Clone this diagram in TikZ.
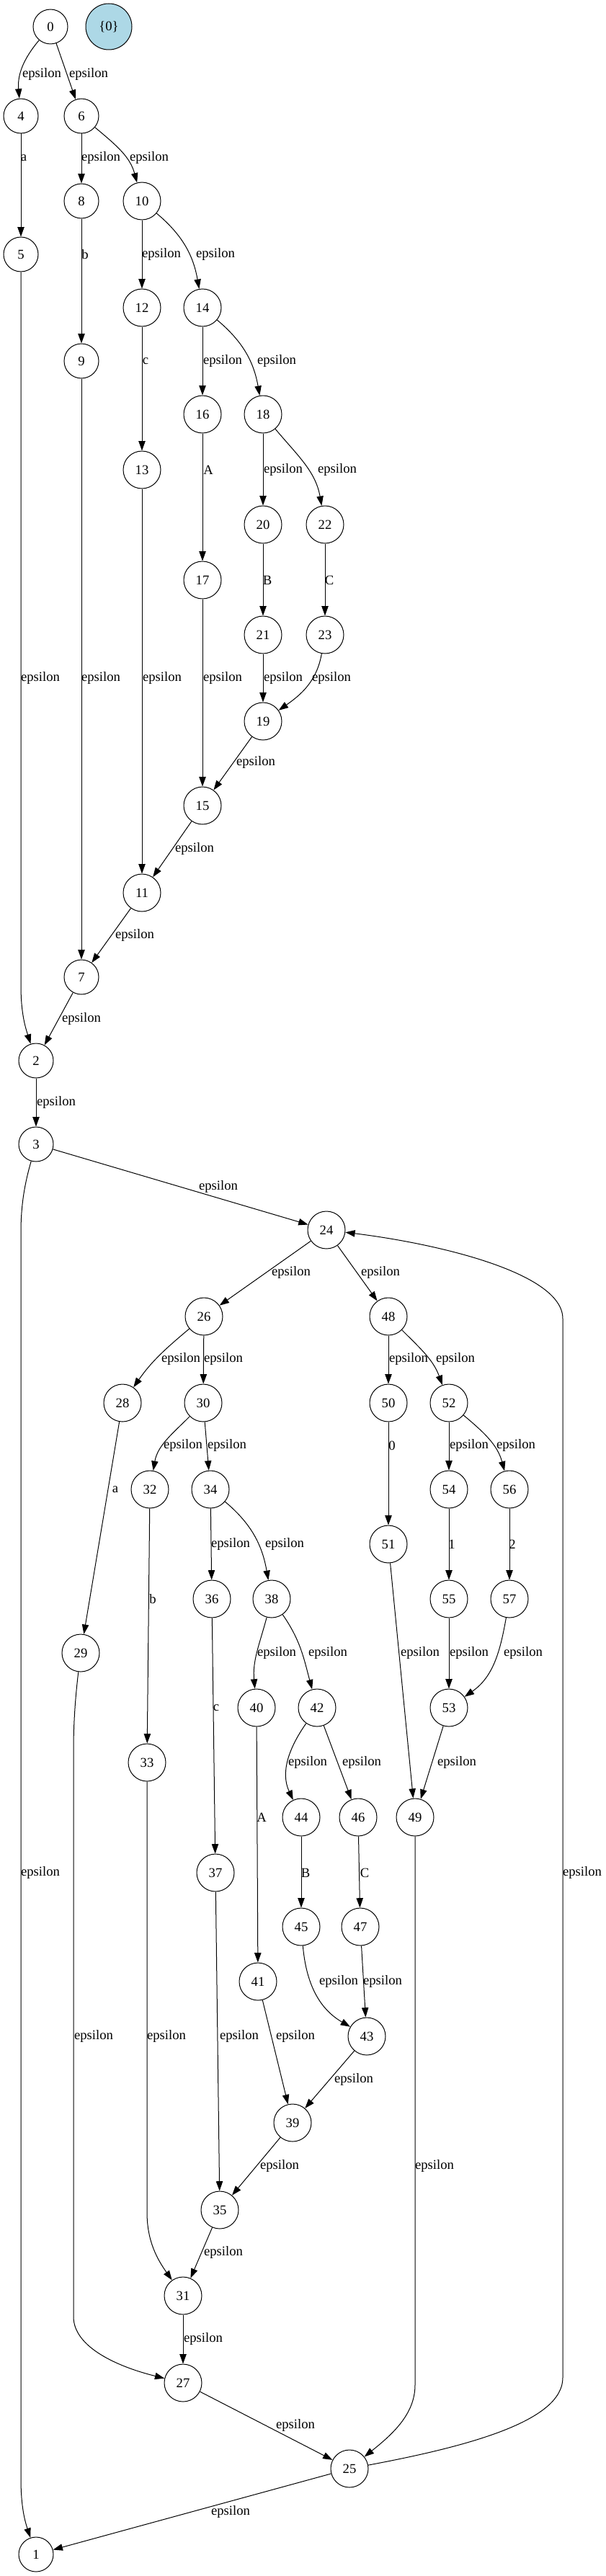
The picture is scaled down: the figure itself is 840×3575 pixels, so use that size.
\documentclass[tikz,border=0pt]{standalone}
\usepackage{fontspec}
\setmainfont{Liberation Serif}
\usetikzlibrary{arrows.meta}
\definecolor{lightblue}{HTML}{ADD8E6}
\tikzset{
  st/.style={draw, circle, line width=0.75pt, minimum size=36pt, inner sep=0pt, font=\fontsize{14}{16}\selectfont},
  stt/.style={st, minimum size=39pt},
  start/.style={st, minimum size=48pt, fill=lightblue},
  edge/.style={line width=0.75pt, -{Triangle[length=10pt,width=7pt]}},
  lab/.style={font=\fontsize{14}{16}\selectfont, inner sep=0pt}
}
\begin{document}
\begin{tikzpicture}[x=0.75pt,y=0.75pt]
\useasboundingbox (0,0) rectangle (840,-3575);
% nodes
\node[st] (n0) at (70,-37) {0};
\node[start] (z) at (151,-37) {\{0\}};
\node[st] (n4) at (29,-161) {4};
\node[st] (n6) at (113,-161) {6};
\node[st] (n8) at (113,-279) {8};
\node[stt] (n10) at (197,-279) {10};
\node[st] (n5) at (29,-353) {5};
\node[stt] (n12) at (197,-427) {12};
\node[stt] (n14) at (281,-427) {14};
\node[st] (n9) at (113,-501) {9};
\node[stt] (n16) at (281,-575) {16};
\node[stt] (n18) at (365,-575) {18};
\node[stt] (n13) at (197,-652) {13};
\node[stt] (n20) at (365,-728) {20};
\node[stt] (n22) at (451,-728) {22};
\node[stt] (n17) at (281,-805) {17};
\node[stt] (n21) at (365,-881) {21};
\node[stt] (n23) at (451,-881) {23};
\node[stt] (n19) at (365,-1001) {19};
\node[stt] (n15) at (281,-1118) {15};
\node[stt] (n11) at (197,-1239) {11};
\node[st] (n7) at (113,-1356) {7};
\node[st] (n2) at (50,-1472) {2};
\node[st] (n3) at (50,-1588) {3};
\node[stt] (n24) at (453,-1707) {24};
\node[stt] (n26) at (283,-1827) {26};
\node[stt] (n48) at (539,-1827) {48};
\node[stt] (n28) at (170,-1947) {28};
\node[stt] (n30) at (282,-1947) {30};
\node[stt] (n50) at (539,-1947) {50};
\node[stt] (n52) at (623,-1947) {52};
\node[stt] (n32) at (208,-2067) {32};
\node[stt] (n34) at (292,-2067) {34};
\node[stt] (n54) at (623,-2067) {54};
\node[stt] (n56) at (707,-2067) {56};
\node[stt] (n51) at (539,-2143) {51};
\node[stt] (n36) at (294,-2219) {36};
\node[stt] (n38) at (377,-2219) {38};
\node[stt] (n55) at (623,-2219) {55};
\node[stt] (n57) at (707,-2219) {57};
\node[stt] (n29) at (112,-2294) {29};
\node[stt] (n40) at (356,-2370) {40};
\node[stt] (n42) at (440,-2370) {42};
\node[stt] (n53) at (623,-2370) {53};
\node[stt] (n33) at (204,-2446) {33};
\node[stt] (n44) at (418,-2522) {44};
\node[stt] (n46) at (497,-2522) {46};
\node[stt] (n49) at (576,-2522) {49};
\node[stt] (n37) at (299,-2599) {37};
\node[stt] (n45) at (418,-2674) {45};
\node[stt] (n47) at (500,-2674) {47};
\node[stt] (n41) at (358,-2750) {41};
\node[stt] (n43) at (509,-2826) {43};
\node[stt] (n39) at (406,-2946) {39};
\node[stt] (n35) at (305,-3067) {35};
\node[stt] (n31) at (254,-3186) {31};
\node[stt] (n27) at (254,-3307) {27};
\node[stt] (n25) at (485,-3426) {25};
\node[st] (n1) at (50,-3545) {1};
% edges
\draw[edge] (n0) to[out=-130,in=95] (n4);
\draw[edge] (n0) -- (n6);
\draw[edge] (n4) -- (n5);
\draw[edge] (n6) -- (n8);
\draw[edge] (n6) to[out=-40,in=105] (n10);
\draw[edge] (n5) -- (29,-1368) .. controls (29,-1408) and (36,-1428) .. (n2);
\draw[edge] (n8) -- (n9);
\draw[edge] (n9) -- (n7);
\draw[edge] (n10) -- (n12);
\draw[edge] (n10) to[out=-40,in=100] (n14);
\draw[edge] (n12) -- (n13);
\draw[edge] (n13) -- (n11);
\draw[edge] (n14) -- (n16);
\draw[edge] (n14) to[out=-40,in=100] (n18);
\draw[edge] (n16) -- (n17);
\draw[edge] (n17) -- (n15);
\draw[edge] (n18) -- (n20);
\draw[edge] (n18) to[out=-50,in=100] (n22);
\draw[edge] (n20) -- (n21);
\draw[edge] (n22) -- (n23);
\draw[edge] (n21) -- (n19);
\draw[edge] (n23) to[out=-100,in=35] (n19);
\draw[edge] (n19) -- (n15);
\draw[edge] (n15) -- (n11);
\draw[edge] (n11) -- (n7);
\draw[edge] (n7) -- (n2);
\draw[edge] (n2) -- (n3);
\draw[edge] (n3) -- (n24);
\draw[edge] (n3) .. controls (35,-1640) and (29,-1670) .. (29,-1710) -- (29,-3440) .. controls (29,-3480) and (35,-3500) .. (n1);
\draw[edge] (n24) -- (n26);
\draw[edge] (n24) -- (n48);
\draw[edge] (n25) .. controls (650,-3395) and (781,-3360) .. (781,-3300) -- (781,-1830) .. controls (781,-1765) and (600,-1725) .. (n24);
\draw[edge] (n26) to[out=220,in=55] (n28);
\draw[edge] (n26) -- (n30);
\draw[edge] (n48) -- (n50);
\draw[edge] (n48) to[out=-45,in=110] (n52);
\draw[edge] (n28) -- (n29);
\draw[edge] (n30) to[out=225,in=80] (n32);
\draw[edge] (n30) -- (n34);
\draw[edge] (n50) -- (n51);
\draw[edge] (n52) -- (n54);
\draw[edge] (n52) to[out=-40,in=105] (n56);
\draw[edge] (n32) -- (n33);
\draw[edge] (n34) -- (n36);
\draw[edge] (n34) to[out=-40,in=100] (n38);
\draw[edge] (n54) -- (n55);
\draw[edge] (n56) -- (n57);
\draw[edge] (n51) -- (n49);
\draw[edge] (n36) -- (n37);
\draw[edge] (n38) to[out=-105,in=95] (n40);
\draw[edge] (n38) to[out=-55,in=105] (n42);
\draw[edge] (n55) -- (n53);
\draw[edge] (n57) to[out=-100,in=35] (n53);
\draw[edge] (n29) .. controls (104,-2360) and (102,-2395) .. (102,-2430) -- (102,-3215) .. controls (102,-3258) and (165,-3285) .. (n27);
\draw[edge] (n33) -- (204,-3070) .. controls (204,-3110) and (218,-3135) .. (n31);
\draw[edge] (n37) -- (n35);
\draw[edge] (n40) -- (n41);
\draw[edge] (n42) to[out=-125,in=115] (n44);
\draw[edge] (n42) -- (n46);
\draw[edge] (n53) -- (n49);
\draw[edge] (n44) -- (n45);
\draw[edge] (n46) -- (n47);
\draw[edge] (n45) to[out=-85,in=150] (n43);
\draw[edge] (n47) -- (n43);
\draw[edge] (n41) -- (n39);
\draw[edge] (n43) -- (n39);
\draw[edge] (n39) -- (n35);
\draw[edge] (n49) -- (576,-3310) .. controls (576,-3350) and (545,-3378) .. (n25);
\draw[edge] (n35) -- (n31);
\draw[edge] (n31) -- (n27);
\draw[edge] (n27) -- (n25);
\draw[edge] (n25) -- (n1);
% labels
\node[lab] (l0a) at (58,-103) {epsilon};
\node[lab] (l0b) at (123,-103) {epsilon};
\node[lab] (l4) at (33,-219) {a};
\node[lab] (l6a) at (140,-219) {epsilon};
\node[lab] (l6b) at (207,-219) {epsilon};
\node[lab] (l8) at (118,-353) {b};
\node[lab] (l10a) at (224,-353) {epsilon};
\node[lab] (l10b) at (299,-353) {epsilon};
\node[lab] (l12) at (202,-501) {c};
\node[lab] (l14a) at (309,-501) {epsilon};
\node[lab] (l14b) at (384,-501) {epsilon};
\node[lab] (l16) at (289,-652) {A};
\node[lab] (l18a) at (393,-652) {epsilon};
\node[lab] (l18b) at (468,-652) {epsilon};
\node[lab] (l20) at (371,-805) {B};
\node[lab] (l22) at (457,-805) {C};
\node[lab] (l5) at (56,-941) {epsilon};
\node[lab] (l9) at (140,-941) {epsilon};
\node[lab] (l13) at (225,-941) {epsilon};
\node[lab] (l17) at (309,-941) {epsilon};
\node[lab] (l21) at (393,-941) {epsilon};
\node[lab] (l23) at (460,-941) {epsilon};
\node[lab] (l19) at (355,-1058) {epsilon};
\node[lab] (l15) at (270,-1178) {epsilon};
\node[lab] (l11) at (187,-1298) {epsilon};
\node[lab] (l7) at (113,-1414) {epsilon};
\node[lab] (l2) at (78,-1530) {epsilon};
\node[lab] (l3a) at (303,-1647) {epsilon};
\node[lab] (l24a) at (404,-1766) {epsilon};
\node[lab] (l24b) at (528,-1766) {epsilon};
\node[lab] (l26a) at (251,-1886) {epsilon};
\node[lab] (l26b) at (310,-1886) {epsilon};
\node[lab] (l48a) at (567,-1886) {epsilon};
\node[lab] (l48b) at (632,-1886) {epsilon};
\node[lab] (l28) at (160,-2067) {a};
\node[lab] (l30a) at (254,-2006) {epsilon};
\node[lab] (l30b) at (315,-2006) {epsilon};
\node[lab] (l50) at (544,-2006) {0};
\node[lab] (l52a) at (651,-2006) {epsilon};
\node[lab] (l52b) at (716,-2006) {epsilon};
\node[lab] (l34a) at (320,-2143) {epsilon};
\node[lab] (l34b) at (395,-2143) {epsilon};
\node[lab] (l54) at (627,-2143) {1};
\node[lab] (l56) at (711,-2143) {2};
\node[lab] (l32) at (212,-2219) {b};
\node[lab] (l38a) at (384,-2294) {epsilon};
\node[lab] (l38b) at (455,-2294) {epsilon};
\node[lab] (l51) at (583,-2294) {epsilon};
\node[lab] (l55) at (651,-2294) {epsilon};
\node[lab] (l57) at (726,-2294) {epsilon};
\node[lab] (l36) at (300,-2370) {c};
\node[lab] (l42a) at (427,-2446) {epsilon};
\node[lab] (l42b) at (502,-2446) {epsilon};
\node[lab] (l53) at (634,-2446) {epsilon};
\node[lab] (l40) at (363,-2522) {A};
\node[lab] (l44) at (424,-2599) {B};
\node[lab] (l46) at (506,-2599) {C};
\node[lab] (l3b) at (56,-2599) {epsilon};
\node[lab] (l25b) at (808,-2599) {epsilon};
\node[lab] (l45) at (470,-2750) {epsilon};
\node[lab] (l47) at (531,-2750) {epsilon};
\node[lab] (l29) at (130,-2826) {epsilon};
\node[lab] (l33) at (231,-2826) {epsilon};
\node[lab] (l37) at (332,-2826) {epsilon};
\node[lab] (l41) at (410,-2826) {epsilon};
\node[lab] (l43) at (491,-2886) {epsilon};
\node[lab] (l39) at (388,-3006) {epsilon};
\node[lab] (l49) at (603,-3006) {epsilon};
\node[lab] (l35) at (310,-3126) {epsilon};
\node[lab] (l31) at (282,-3246) {epsilon};
\node[lab] (l27) at (410,-3366) {epsilon};
\node[lab] (l25a) at (320,-3486) {epsilon};
\end{tikzpicture}
\end{document}
